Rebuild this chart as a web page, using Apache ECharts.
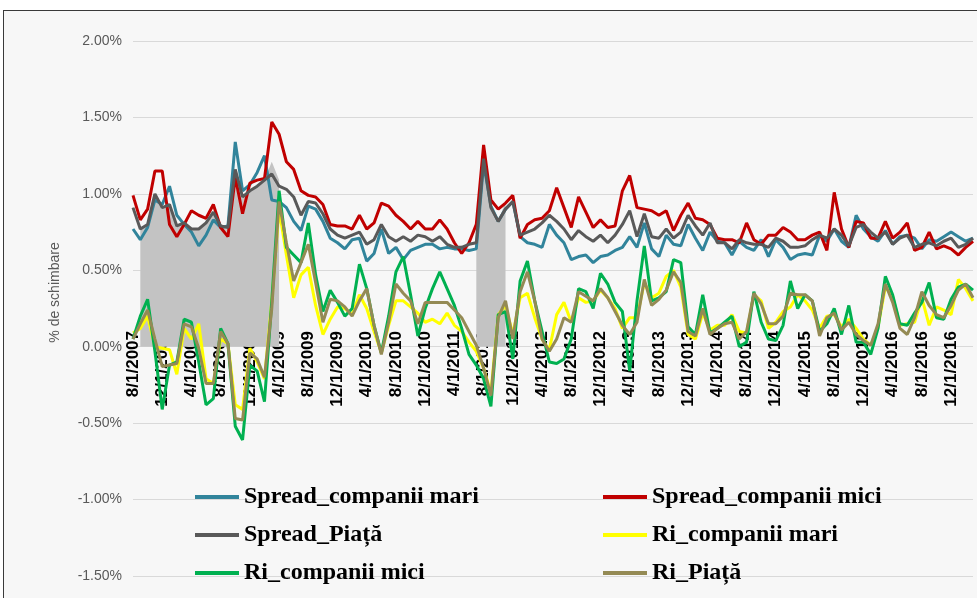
<!DOCTYPE html>
<html>
<head>
<meta charset="utf-8">
<script src="https://cdn.jsdelivr.net/npm/echarts@6/dist/echarts.min.js"></script>
<style>
html,body{margin:0;padding:0;background:#fff;overflow:hidden}
#frame{position:absolute;left:3px;top:10px;width:1000px;height:620px;border:1px solid #3a3a3a;background:#f7f7f7}
#chart{position:absolute;left:0;top:0;width:977px;height:598px}
</style>
</head>
<body>
<div id="frame"></div>
<div id="chart"></div>
<script>
// months, Aug 2007 .. Mar 2017
var months = [
  '8/1/2007','9/1/2007','10/1/2007','11/1/2007','12/1/2007',
  '1/1/2008','2/1/2008','3/1/2008','4/1/2008','5/1/2008','6/1/2008','7/1/2008','8/1/2008','9/1/2008','10/1/2008','11/1/2008','12/1/2008',
  '1/1/2009','2/1/2009','3/1/2009','4/1/2009','5/1/2009','6/1/2009','7/1/2009','8/1/2009','9/1/2009','10/1/2009','11/1/2009','12/1/2009',
  '1/1/2010','2/1/2010','3/1/2010','4/1/2010','5/1/2010','6/1/2010','7/1/2010','8/1/2010','9/1/2010','10/1/2010','11/1/2010','12/1/2010',
  '1/1/2011','2/1/2011','3/1/2011','4/1/2011','5/1/2011','6/1/2011','7/1/2011','8/1/2011','9/1/2011','10/1/2011','11/1/2011','12/1/2011',
  '1/1/2012','2/1/2012','3/1/2012','4/1/2012','5/1/2012','6/1/2012','7/1/2012','8/1/2012','9/1/2012','10/1/2012','11/1/2012','12/1/2012',
  '1/1/2013','2/1/2013','3/1/2013','4/1/2013','5/1/2013','6/1/2013','7/1/2013','8/1/2013','9/1/2013','10/1/2013','11/1/2013','12/1/2013',
  '1/1/2014','2/1/2014','3/1/2014','4/1/2014','5/1/2014','6/1/2014','7/1/2014','8/1/2014','9/1/2014','10/1/2014','11/1/2014','12/1/2014',
  '1/1/2015','2/1/2015','3/1/2015','4/1/2015','5/1/2015','6/1/2015','7/1/2015','8/1/2015','9/1/2015','10/1/2015','11/1/2015','12/1/2015',
  '1/1/2016','2/1/2016','3/1/2016','4/1/2016','5/1/2016','6/1/2016','7/1/2016','8/1/2016','9/1/2016','10/1/2016','11/1/2016','12/1/2016',
  '1/1/2017','2/1/2017','3/1/2017'
];

var spreadMari = [
  0.77,0.70,0.78,0.96,0.93,1.05,0.86,0.80,0.75,0.66,
  0.73,0.83,0.78,0.79,1.34,1.02,1.06,1.14,1.25,0.96,
  0.95,0.91,0.82,0.76,0.92,0.90,0.82,0.71,0.68,0.64,
  0.70,0.71,0.56,0.61,0.77,0.61,0.65,0.57,0.63,0.65,
  0.67,0.67,0.64,0.65,0.64,0.64,0.63,0.64,1.20,0.92,
  0.82,0.90,0.95,0.72,0.68,0.67,0.65,0.80,0.73,0.68,
  0.57,0.59,0.60,0.55,0.59,0.60,0.63,0.65,0.72,0.65,
  0.81,0.64,0.59,0.73,0.67,0.66,0.80,0.71,0.63,0.75,
  0.69,0.68,0.60,0.69,0.65,0.63,0.70,0.59,0.70,0.65,
  0.57,0.60,0.61,0.60,0.73,0.69,0.77,0.69,0.65,0.86,
  0.77,0.72,0.69,0.76,0.67,0.72,0.73,0.71,0.64,0.70,
  0.69,0.72,0.75,0.72,0.69,0.71
];
var spreadMici = [
  0.99,0.83,0.90,1.15,1.15,0.80,0.72,0.80,0.89,0.86,
  0.84,0.93,0.78,0.72,1.11,0.87,1.07,1.09,1.10,1.47,
  1.39,1.21,1.16,1.02,0.99,0.98,0.93,0.80,0.79,0.79,
  0.77,0.86,0.77,0.81,0.94,0.92,0.86,0.82,0.77,0.82,
  0.77,0.77,0.83,0.77,0.68,0.61,0.68,0.80,1.32,0.96,
  0.90,0.94,0.99,0.71,0.80,0.83,0.84,0.89,1.04,0.91,
  0.78,0.98,0.88,0.78,0.83,0.78,0.79,1.02,1.12,0.91,
  0.90,0.89,0.86,0.89,0.76,0.86,0.94,0.84,0.83,0.80,
  0.71,0.70,0.70,0.68,0.81,0.70,0.67,0.73,0.73,0.78,
  0.75,0.70,0.70,0.73,0.75,0.63,1.01,0.77,0.65,0.82,
  0.81,0.71,0.71,0.82,0.71,0.75,0.81,0.63,0.65,0.75,
  0.64,0.66,0.64,0.60,0.65,0.69
];
var spreadPiata = [
  0.91,0.77,0.80,1.00,0.91,0.93,0.79,0.81,0.77,0.77,
  0.81,0.88,0.79,0.78,1.16,0.98,1.02,1.05,1.09,1.13,
  1.05,1.03,0.98,0.86,0.95,0.94,0.87,0.77,0.73,0.71,
  0.73,0.75,0.67,0.70,0.80,0.72,0.69,0.72,0.69,0.73,
  0.72,0.69,0.72,0.67,0.65,0.65,0.67,0.68,1.23,0.91,
  0.82,0.90,0.95,0.73,0.75,0.77,0.81,0.86,0.82,0.77,
  0.70,0.76,0.72,0.69,0.73,0.68,0.73,0.80,0.89,0.72,
  0.87,0.72,0.71,0.77,0.71,0.75,0.86,0.79,0.73,0.81,
  0.68,0.68,0.64,0.70,0.68,0.67,0.67,0.65,0.71,0.69,
  0.65,0.65,0.66,0.70,0.73,0.71,0.77,0.73,0.66,0.78,
  0.80,0.75,0.71,0.75,0.67,0.71,0.73,0.65,0.67,0.68,
  0.66,0.69,0.71,0.65,0.67,0.71
];
var riMari = [
  0.09,0.12,0.20,0.00,-0.01,-0.02,-0.18,0.12,0.05,0.15,
  -0.21,-0.24,0.05,0.02,-0.38,-0.41,-0.01,-0.10,-0.21,0.30,
  0.90,0.60,0.32,0.47,0.52,0.27,0.08,0.18,0.26,0.25,
  0.21,0.34,0.25,0.10,-0.04,0.14,0.30,0.30,0.26,0.22,
  0.16,0.18,0.15,0.22,0.14,0.10,0.03,-0.03,-0.14,-0.30,
  0.21,0.27,0.08,0.32,0.35,0.19,0.05,-0.02,0.21,0.29,
  0.16,0.32,0.29,0.30,0.37,0.32,0.25,0.12,0.19,0.19,
  0.42,0.32,0.35,0.46,0.50,0.39,0.08,0.05,0.22,0.11,
  0.14,0.14,0.21,0.10,0.09,0.34,0.30,0.12,0.16,0.23,
  0.26,0.34,0.30,0.24,0.12,0.20,0.21,0.13,0.18,0.12,
  0.05,0.01,0.13,0.39,0.33,0.14,0.15,0.16,0.32,0.14,
  0.26,0.24,0.21,0.44,0.38,0.30
];
var riMici = [
  0.05,0.20,0.31,-0.03,-0.41,-0.12,-0.10,0.18,0.16,-0.10,
  -0.38,-0.34,0.12,0.02,-0.52,-0.61,-0.12,-0.16,-0.36,0.30,
  1.02,0.65,0.60,0.55,0.81,0.47,0.23,0.37,0.29,0.20,
  0.25,0.54,0.38,0.14,-0.04,0.20,0.49,0.59,0.34,0.07,
  0.25,0.38,0.49,0.38,0.27,0.12,-0.05,-0.12,-0.21,-0.39,
  0.21,0.23,-0.08,0.43,0.56,0.30,0.10,-0.10,-0.11,-0.08,
  0.05,0.38,0.36,0.25,0.48,0.41,0.29,0.23,-0.16,0.30,
  0.66,0.30,0.32,0.36,0.57,0.55,0.13,0.08,0.34,0.09,
  0.12,0.16,0.20,0.00,0.03,0.36,0.16,0.05,0.04,0.14,
  0.43,0.25,0.34,0.30,0.10,0.15,0.25,0.08,0.27,0.03,
  0.03,-0.05,0.12,0.46,0.34,0.15,0.14,0.22,0.29,0.42,
  0.19,0.18,0.31,0.39,0.41,0.37
];
var riPiata = [
  0.05,0.15,0.24,0.05,-0.13,-0.12,-0.11,0.15,0.13,-0.01,
  -0.24,-0.24,0.10,0.02,-0.47,-0.48,-0.04,-0.08,-0.20,0.25,
  0.95,0.68,0.43,0.55,0.67,0.42,0.16,0.31,0.30,0.26,
  0.20,0.30,0.38,0.14,-0.05,0.16,0.41,0.35,0.30,0.15,
  0.29,0.29,0.29,0.29,0.24,0.19,0.10,0.01,-0.14,-0.32,
  0.19,0.30,0.05,0.36,0.49,0.30,0.05,-0.03,0.05,0.19,
  0.16,0.36,0.33,0.30,0.38,0.32,0.23,0.14,0.08,0.16,
  0.44,0.27,0.31,0.37,0.49,0.42,0.10,0.07,0.25,0.08,
  0.12,0.15,0.16,0.05,0.10,0.35,0.28,0.15,0.15,0.20,
  0.35,0.34,0.34,0.30,0.07,0.19,0.22,0.11,0.16,0.08,
  0.04,0.01,0.15,0.41,0.29,0.12,0.08,0.19,0.36,0.27,
  0.21,0.19,0.27,0.37,0.41,0.32
];

// shaded crisis periods: [month index, value]
var shadeA = [[1,0.77],[2,0.80],[3,1.00],[4,0.91],[5,0.93],[6,0.79],[7,0.81],[8,0.77],[9,0.77],[10,0.81],
  [11,0.88],[12,0.79],[13,0.78],[14,1.16],[15,0.98],[16,1.02],[17,1.05],[18,1.09],[19,1.21],[20,1.09]];
var shadeB = [[47,0.66],[48,1.23],[49,0.91],[50,0.82],[51,0.95]];

var names = ['Spread_companii mari','Spread_companii mici','Spread_Piață','Ri_companii mari','Ri_companii mici','Ri_Piață'];
var colors = ['#31849B','#C00000','#595959','#FFFF00','#00B050','#948A54'];
var values = [spreadMari, spreadMici, spreadPiata, riMari, riMici, riPiata];

var chart = echarts.init(document.getElementById('chart'), null, {renderer: 'canvas'});

var series = [];
[shadeA, shadeB].forEach(function (d, k) {
  series.push({
    name: 'shade' + k,
    type: 'line',
    data: d,
    symbol: 'none',
    lineStyle: {width: 0},
    areaStyle: {color: '#c3c3c3', opacity: 1},
    silent: true,
    z: 1
  });
});
names.forEach(function (n, k) {
  series.push({
    name: n,
    type: 'line',
    data: values[k],
    symbol: 'none',
    color: colors[k],
    lineStyle: {width: 3, color: colors[k]},
    z: 2 + k
  });
});

var legendText = {fontFamily: 'Liberation Serif', fontWeight: 'bold', fontSize: 24, color: '#000'};

chart.setOption({
  animation: false,
  backgroundColor: 'transparent',
  grid: {left: 133, right: 4, top: 41, bottom: 22, containLabel: false, outerBoundsMode: 'none'},
  legend: [
    {data: [names[0], names[2], names[4]], orient: 'vertical', left: 190, top: 480,
     icon: 'rect', itemWidth: 44, itemHeight: 4, itemGap: 14, textStyle: legendText},
    {data: [names[1], names[3], names[5]], orient: 'vertical', left: 598, top: 480,
     icon: 'rect', itemWidth: 44, itemHeight: 4, itemGap: 14, textStyle: legendText}
  ],
  xAxis: {
    type: 'category',
    data: months,
    boundaryGap: false,
    axisLine: {show: false, onZero: false},
    axisTick: {show: false},
    axisLabel: {
      // labels hang from just above the 0% line
      interval: 3, rotate: 90, margin: -245,
      fontFamily: 'Liberation Sans', fontWeight: 'bold', fontSize: 17, color: '#000'
    },
    splitLine: {show: false}
  },
  yAxis: {
    type: 'value',
    min: -1.5, max: 2, interval: 0.5,
    name: '% de schimbare',
    nameLocation: 'middle',
    nameGap: 71,
    nameTextStyle: {fontFamily: 'Liberation Sans', fontSize: 14, color: '#595959', padding: [0, 0, 0, 32]},
    axisLine: {show: false},
    axisTick: {show: false},
    axisLabel: {
      margin: 11, fontFamily: 'Liberation Sans', fontSize: 14, color: '#595959',
      formatter: function (v) { return v.toFixed(2) + '%'; }
    },
    splitLine: {lineStyle: {color: '#d9d9d9', width: 1}}
  },
  series: series
});
</script>
</body>
</html>
